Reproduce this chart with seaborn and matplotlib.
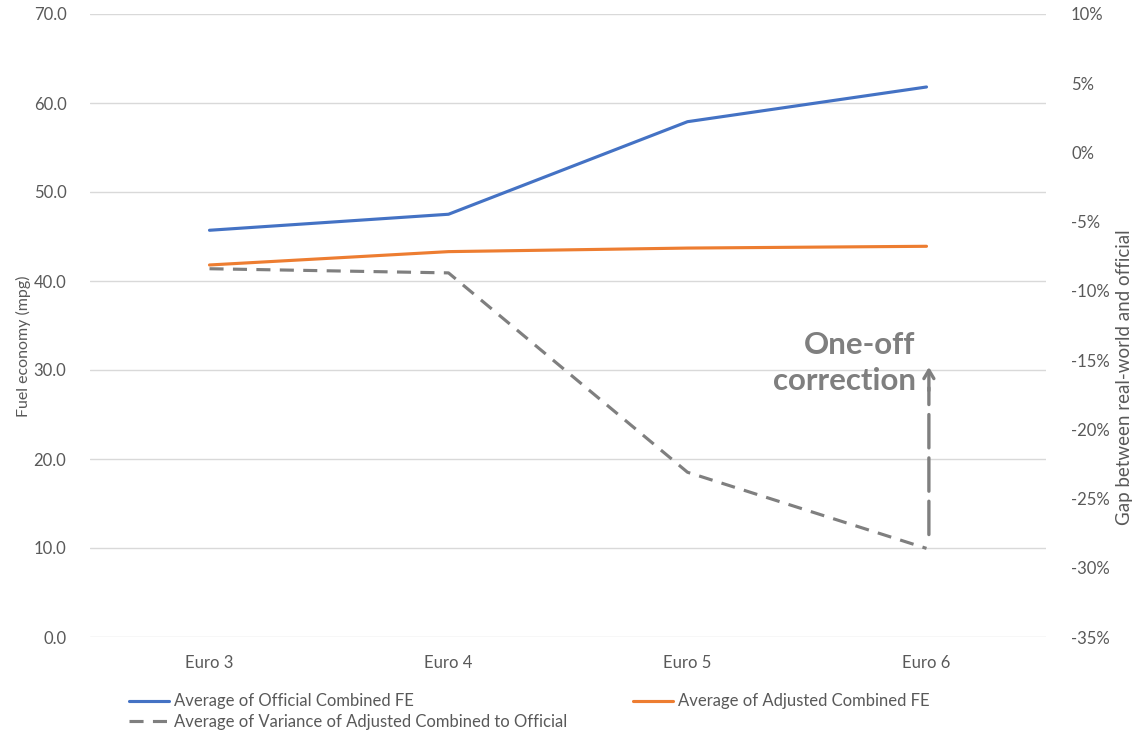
import matplotlib
matplotlib.use("Agg")
import matplotlib.pyplot as plt
from matplotlib.ticker import FixedLocator, FuncFormatter
import pandas as pd
import seaborn as sns

# Emission standards and averaged fuel economy figures
categories = ["Euro 3", "Euro 4", "Euro 5", "Euro 6"]
official_fe = [45.7, 47.5, 57.9, 61.8]        # mpg
adjusted_fe = [41.8, 43.3, 43.7, 43.9]        # mpg
variance_pct = [-8.4, -8.7, -23.1, -28.6]     # % gap real-world vs official

left_ticks = [0, 10, 20, 30, 40, 50, 60, 70]
right_ticks = [10, 5, 0, -5, -10, -15, -20, -25, -30, -35]

df = pd.DataFrame({
    "standard": categories,
    "official": official_fe,
    "adjusted": adjusted_fe,
    "variance": variance_pct,
})

sns.set_theme(style="white")
plt.rcParams["font.family"] = ["Lato", "DejaVu Sans"]

BLUE = "#4472C4"
ORANGE = "#ED7D31"
GREY = "#7F7F7F"
TEXT = "#595959"
GRID = "#D9D9D9"
LW = 2.25

fig = plt.figure(figsize=(11.38, 7.30), dpi=100)
ax = fig.add_axes([90 / 1138, 1 - 637 / 730, (1046 - 90) / 1138, (637 - 14) / 730])
ax2 = ax.twinx()

sns.lineplot(data=df, x="standard", y="official", ax=ax, color=BLUE, lw=LW,
             sort=False, label="Average of Official Combined FE", legend=False)
sns.lineplot(data=df, x="standard", y="adjusted", ax=ax, color=ORANGE, lw=LW,
             sort=False, label="Average of Adjusted Combined FE", legend=False)
sns.lineplot(data=df, x="standard", y="variance", ax=ax2, color=GREY, lw=LW,
             sort=False, dashes=False, legend=False,
             label="Average of Variance of Adjusted Combined to Official")
ax2.lines[0].set_linestyle((0, (4.5, 3)))

ax.set_xlim(-0.5, 3.5)
ax.set_ylim(0, 70)
ax2.set_ylim(-35, 10)

ax.yaxis.set_major_locator(FixedLocator(left_ticks))
ax.yaxis.set_major_formatter(FuncFormatter(lambda v, p: f"{v:.1f}"))
ax2.yaxis.set_major_locator(FixedLocator(right_ticks))
ax2.yaxis.set_major_formatter(FuncFormatter(lambda v, p: f"{v:.0f}%"))

ax.grid(axis="y", color=GRID, lw=1.0)
ax.grid(axis="x", visible=False)
ax2.grid(False)
ax.set_axisbelow(True)

for a in (ax, ax2):
    for s in a.spines.values():
        s.set_visible(False)
    a.tick_params(length=0, colors=TEXT, labelsize=12)

ax.tick_params(axis="y", pad=17)
ax2.tick_params(axis="y", pad=18)
ax.tick_params(axis="x", pad=13)

ax.set_xlabel("")
ax.set_ylabel("Fuel economy (mpg)", color=TEXT, fontsize=11.5)
ax.yaxis.set_label_coords(-0.062, 0.467)
ax2.set_ylabel("Gap between real-world and official", color=TEXT, fontsize=13.5)
ax2.yaxis.set_label_coords(1.073, 0.417)

# Correction annotation: dashed shaft with a solid open head
ax2.annotate("", xy=(3.01, -17.0), xytext=(3.01, -27.6),
             arrowprops=dict(arrowstyle="-", color=GREY, lw=2.4,
                             linestyle=(0, (10, 3)), shrinkA=0, shrinkB=0))
ax2.annotate("", xy=(3.01, -15.5), xytext=(3.01, -17.2),
             arrowprops=dict(arrowstyle="->,head_length=0.5,head_width=0.3",
                             color=GREY, lw=2.4, shrinkA=0, shrinkB=0))
ax2.text(2.955, -15.2, "One-off\ncorrection", ha="right", va="center",
         multialignment="right", fontsize=22.5, fontweight="bold", color=GREY,
         linespacing=1.35)

# Legend along the bottom
h1, l1 = ax.get_legend_handles_labels()
h2, l2 = ax2.get_legend_handles_labels()
handles = [h1[0], h2[0], h1[1]]
labels = [l1[0], l2[0], l1[1]]
leg = fig.legend(handles, labels, ncol=2, loc="upper left",
                 bbox_to_anchor=(121 / 1138, 1 - 685 / 730), frameon=False,
                 fontsize=12, handlelength=2.4, handletextpad=0.25,
                 columnspacing=4.0, labelspacing=0.25, borderpad=0)
for t in leg.get_texts():
    t.set_color(TEXT)

fig.savefig("out.png", dpi=100)
